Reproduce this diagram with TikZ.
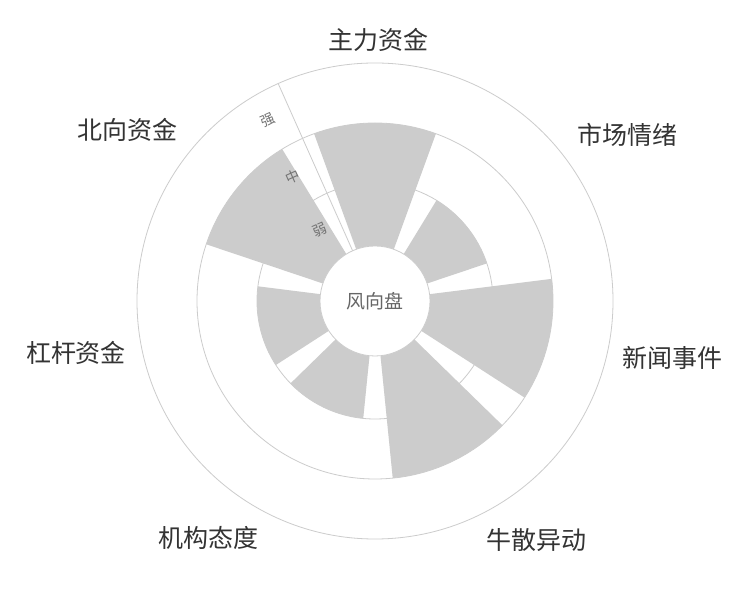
\documentclass[tikz,border=0pt]{standalone}
\usepackage{fontspec}
\setmainfont{Noto Sans CJK SC}
\begin{document}
\begin{tikzpicture}[x=1pt,y=1pt,
  grid/.style={draw=black!20,line width=0.8pt},
  bar/.style={fill=black!20,draw=white,line width=0.5pt},
  cat/.style={font=\fontsize{25}{30}\selectfont,text=black!80},
  tick/.style={font=\fontsize{14}{16}\selectfont,text=black!55,rotate=24}]
\useasboundingbox (0,0) rectangle (750,600);
\fill[white] (0,0) rectangle (750,600);
\begin{scope}[shift={(375,299)}]
  \coordinate (c) at (0,0);
  \draw[grid] (c) circle[radius=238];
  \draw[grid] (c) circle[radius=178];
  \draw[grid] (c) circle[radius=118];
  \foreach \k/\r in {0/178,1/118,2/178,3/178,4/118,5/118,6/178}{
    \pgfmathsetmacro{\a}{90-51.4286*\k}
    \pgfmathsetmacro{\lo}{\a-20}
    \pgfmathsetmacro{\hi}{\a+20}
    \fill[black!20] (\lo:55) -- (\lo:\r) arc[start angle=\lo,end angle=\hi,radius=\r] -- (\hi:55) arc[start angle=\hi,end angle=\lo,radius=55] -- cycle;
  }
  \draw[grid] (114:55) -- (114:238);
  \node[circle,draw=black!20,line width=0.8pt,fill=white,minimum size=110pt,inner sep=0pt,font=\fontsize{19}{22}\selectfont,text=black!60] (hub) at (c) {风向盘};
  \node[tick] (weak) at (-55,71) {弱};
  \node[tick] (mid) at (-82,124) {中};
  \node[tick] (strong) at (-107,181) {强};
\end{scope}
\node[cat] (l1) at (378,560) {主力资金};
\node[cat] (l2) at (627,465) {市场情绪};
\node[cat] (l3) at (672,242) {新闻事件};
\node[cat] (l4) at (536,60) {牛散异动};
\node[cat] (l5) at (208,62) {机构态度};
\node[cat] (l6) at (76,247) {杠杆资金};
\node[cat] (l7) at (127,470) {北向资金};
\end{tikzpicture}
\end{document}
